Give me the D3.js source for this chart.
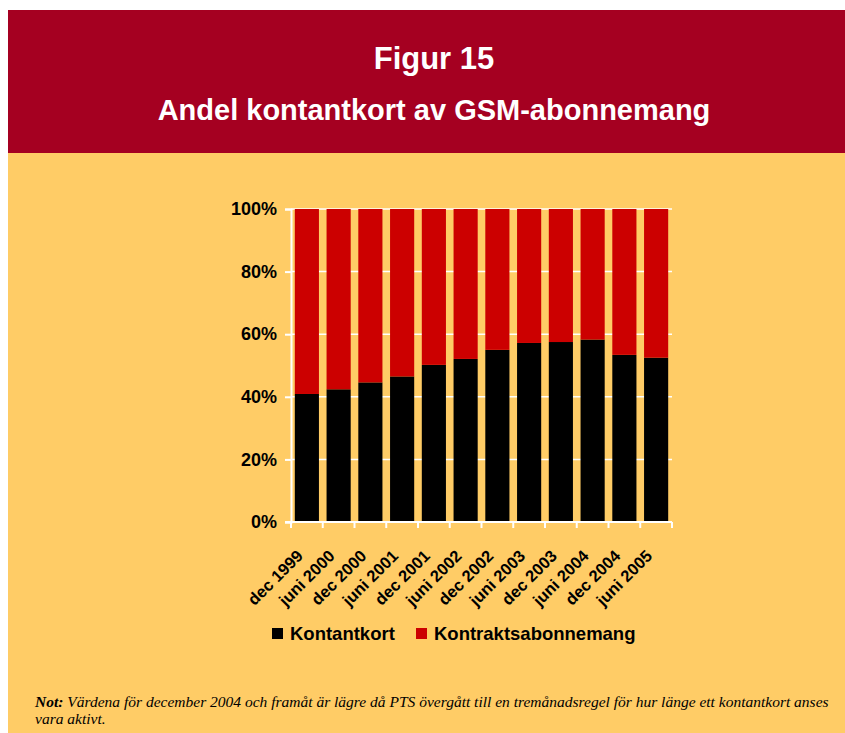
<!DOCTYPE html>
<html>
<head>
<meta charset="utf-8">
<script src="https://cdn.jsdelivr.net/npm/d3@7"></script>
<style>
  body { margin: 0; background: #fff; }
  svg { display: block; }
</style>
</head>
<body>
<div id="chart"></div>
<script>
// data
const periods = ["dec 1999", "juni 2000", "dec 2000", "juni 2001", "dec 2001", "juni 2002",
  "dec 2002", "juni 2003", "dec 2003", "juni 2004", "dec 2004", "juni 2005"];
const kontantkort = [40.9, 42.4, 44.6, 46.5, 50.2, 52.1, 55.0, 57.2, 57.5, 58.3, 53.4, 52.5];
const kontrakt = kontantkort.map(v => 100 - v);
const seriesNames = ["Kontantkort", "Kontraktsabonnemang"];
const seriesColors = ["#000000", "#cc0000"];
const yTicks = [0, 20, 40, 60, 80, 100];

const W = 845, H = 733;
const margin = { top: 209, left: 291, right: 173, bottom: 211 };
const innerW = W - margin.left - margin.right;
const innerH = H - margin.top - margin.bottom;
const sans = "Liberation Sans, Arial, sans-serif";

const svg = d3.select("#chart").append("svg")
  .attr("width", W).attr("height", H);

// header + panel
svg.append("rect").attr("x", 8).attr("y", 10).attr("width", W - 8).attr("height", 143)
  .attr("fill", "#a50021");
svg.append("rect").attr("x", 8).attr("y", 153).attr("width", W - 8).attr("height", H - 153)
  .attr("fill", "#ffcc66");

svg.append("text").attr("x", 434).attr("y", 69).attr("text-anchor", "middle")
  .style("font-family", sans).style("font-weight", "bold")
  .style("font-size", "31px").attr("fill", "#fff").text("Figur 15");
svg.append("text").attr("x", 434).attr("y", 120).attr("text-anchor", "middle")
  .style("font-family", sans).style("font-weight", "bold")
  .style("font-size", "29px").attr("fill", "#fff").text("Andel kontantkort av GSM-abonnemang");

const g = svg.append("g").attr("transform", `translate(${margin.left},${margin.top})`);

const x = d3.scaleBand().domain(periods).range([0, innerW]).paddingInner(0.24).paddingOuter(0.12);
const y = d3.scaleLinear().domain([0, 100]).range([innerH, 0]);

// gridlines
g.selectAll("line.grid").data(yTicks.filter(d => d > 0)).join("line")
  .attr("class", "grid")
  .attr("x1", 0).attr("x2", innerW)
  .attr("y1", d => y(d)).attr("y2", d => y(d))
  .attr("stroke", "#fff").attr("stroke-width", 1.5);

// stacked bars
const rows = periods.map((p, i) => ({ period: p, Kontantkort: kontantkort[i], Kontraktsabonnemang: kontrakt[i] }));
const stack = d3.stack().keys(seriesNames)(rows);

g.selectAll("g.layer").data(stack).join("g")
  .attr("class", "layer")
  .attr("fill", (d, i) => seriesColors[i])
  .selectAll("rect").data(d => d).join("rect")
  .attr("x", d => x(d.data.period))
  .attr("width", x.bandwidth())
  .attr("y", d => y(d[1]))
  .attr("height", d => y(d[0]) - y(d[1]));

// y axis
const yAxis = g.append("g")
  .call(d3.axisLeft(y).tickValues(yTicks).tickFormat(d => d + "%").tickSize(6).tickPadding(8));
yAxis.select(".domain").attr("stroke", "#fff").attr("stroke-width", 2);
yAxis.selectAll(".tick line").attr("stroke", "#fff").attr("stroke-width", 2);
yAxis.selectAll("text")
  .style("font-family", sans).style("font-weight", "bold")
  .style("font-size", "18px").attr("fill", "#000");

// x axis (ticks between categories)
const xg = g.append("g").attr("transform", `translate(0,${innerH})`);
xg.append("line").attr("x1", -6).attr("x2", innerW).attr("stroke", "#fff").attr("stroke-width", 2);
const bounds = d3.range(periods.length + 1).map(i => i * x.step());
xg.selectAll("line.tk").data(bounds).join("line")
  .attr("class", "tk")
  .attr("x1", d => d).attr("x2", d => d).attr("y1", 0).attr("y2", 6)
  .attr("stroke", "#fff").attr("stroke-width", 2);

xg.selectAll("text.lbl").data(periods).join("text")
  .attr("class", "lbl")
  .attr("transform", d => `translate(${x(d) + x.bandwidth() / 2 - 3},35) rotate(-45)`)
  .attr("text-anchor", "end")
  .style("font-family", sans).style("font-weight", "bold")
  .style("font-size", "16.5px").attr("fill", "#000")
  .text(d => d);

// legend
const legend = svg.append("g").attr("transform", "translate(272,628)");
const legX = [0, 144];
seriesNames.forEach((name, i) => {
  legend.append("rect").attr("x", legX[i]).attr("y", 0).attr("width", 11).attr("height", 11)
    .attr("fill", seriesColors[i]);
  legend.append("text").attr("x", legX[i] + 18).attr("y", 12)
    .style("font-family", sans).style("font-weight", "bold")
    .style("font-size", "18.5px").attr("fill", "#000").text(name);
});

// footnote
const note = svg.append("g").style("font-family", "Liberation Serif, Times New Roman, serif")
  .style("font-style", "italic").style("font-size", "15.5px").attr("fill", "#000");
const line1 = note.append("text").attr("x", 35).attr("y", 707);
line1.append("tspan").style("font-weight", "bold").text("Not:");
line1.append("tspan").text(" Värdena för december 2004 och framåt är lägre då PTS övergått till en tremånadsregel för hur länge ett kontantkort anses");
note.append("text").attr("x", 35).attr("y", 724).text("vara aktivt.");
</script>
</body>
</html>
